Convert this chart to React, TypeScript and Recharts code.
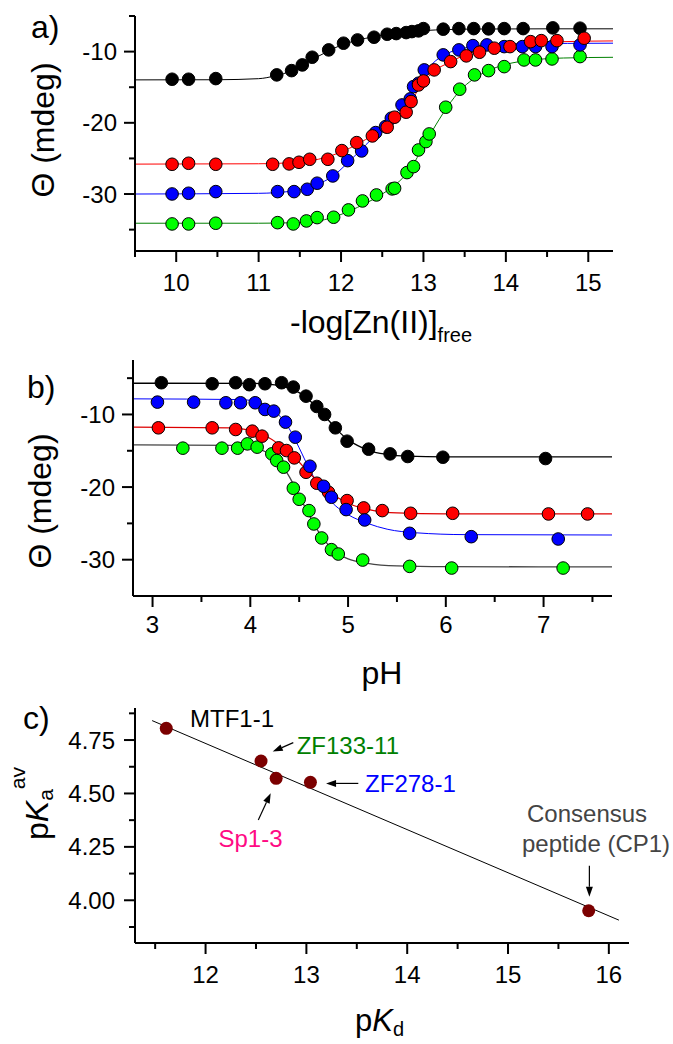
import React from "react";
import {
  ComposedChart,
  Line,
  Scatter,
  XAxis,
  YAxis,
  ReferenceLine,
  ReferenceDot,
} from "recharts";

const FONT = "'Liberation Sans', Arial, sans-serif";

// ---------- a) CD signal vs -log[Zn(II)]free ----------
const aXTicks = [9.5, 10, 10.5, 11, 11.5, 12, 12.5, 13, 13.5, 14, 14.5, 15];
const aXMajor = [10, 11, 12, 13, 14, 15];
const aYTicks = [-35, -30, -25, -20, -15, -10, -5];
const aYMajor = [-30, -20, -10];

const aBlack = [
  [9.95, -13.88], [10.15, -13.88], [10.48, -13.79], [11.22, -13.27], [11.4, -12.67],
  [11.53, -11.87], [11.65, -10.79], [11.85, -9.76], [12.03, -8.82], [12.2, -8.36],
  [12.4, -7.98], [12.56, -7.56], [12.67, -7.47], [12.79, -7.33], [12.86, -7.19],
  [12.94, -7.09], [13.0, -6.77], [13.24, -6.85], [13.43, -6.77], [13.61, -6.77],
  [13.79, -6.81], [13.98, -6.77], [14.21, -6.77], [14.57, -6.67], [14.9, -6.71],
];
const aRed = [
  [9.95, -25.82], [10.15, -25.68], [10.48, -25.82], [11.17, -25.82], [11.37, -25.77],
  [11.49, -25.54], [11.62, -25.12], [11.84, -25.12], [12.01, -23.9], [12.19, -22.78],
  [12.38, -21.84], [12.56, -20.62], [12.65, -19.21], [12.79, -18.51], [12.85, -17.02],
  [12.94, -14.68], [13.0, -14.12], [13.13, -12.57], [13.33, -11.4], [13.52, -10.6],
  [13.68, -10.09], [13.86, -9.52], [14.05, -9.3], [14.3, -8.6], [14.43, -8.46],
  [14.62, -8.46], [14.95, -8.12],
];
const aBlue = [
  [9.95, -29.99], [10.15, -29.89], [10.48, -29.66], [11.23, -29.66], [11.43, -29.66],
  [11.59, -29.33], [11.71, -28.48], [11.9, -27.46], [12.08, -25.31], [12.25, -23.95],
  [12.42, -21.37], [12.54, -20.53], [12.61, -19.35], [12.74, -17.49], [12.84, -16.64],
  [12.88, -14.91], [12.94, -14.44], [13.01, -12.57], [13.24, -10.46], [13.43, -9.76],
  [13.6, -9.16], [13.77, -9.06], [13.98, -9.3], [14.2, -9.3], [14.36, -9.3],
  [14.56, -9.3], [14.9, -9.06],
];
const aGreen = [
  [9.95, -34.2], [10.15, -34.2], [10.48, -34.1], [11.23, -34.02], [11.42, -34.2],
  [11.58, -33.78], [11.71, -33.31], [11.91, -33.26], [12.09, -32.23], [12.26, -30.97],
  [12.43, -30.13], [12.62, -29.28], [12.65, -29.19], [12.8, -26.99], [12.88, -26.15],
  [12.94, -23.81], [13.03, -22.64], [13.07, -21.56], [13.27, -17.81], [13.44, -15.28],
  [13.62, -13.27], [13.79, -12.67], [13.98, -12.11], [14.22, -11.17], [14.36, -11.17],
  [14.56, -11.03], [14.9, -10.7],
];

// fitted curves
const aBlackFit = [
  [9.5, -13.97], [10.5, -13.95], [11.0, -13.8], [11.2, -13.4], [11.4, -12.7], [11.55, -11.8],
  [11.7, -10.8], [11.85, -9.9], [12.0, -9.1], [12.2, -8.4], [12.4, -7.9], [12.6, -7.5],
  [12.8, -7.25], [13.0, -7.05], [13.3, -6.9], [13.7, -6.83], [14.5, -6.8], [15.3, -6.8],
];
const aRedFit = [
  [9.5, -25.8], [11.0, -25.75], [11.5, -25.5], [11.8, -24.9], [12.0, -24.1], [12.2, -23.0],
  [12.4, -21.6], [12.6, -19.9], [12.8, -17.7], [12.95, -15.2], [13.1, -13.0], [13.3, -11.6],
  [13.5, -10.5], [13.8, -9.5], [14.2, -8.85], [14.7, -8.6], [15.3, -8.5],
];
const aBlueFit = [
  [9.5, -30.0], [11.0, -29.9], [11.4, -29.6], [11.7, -28.7], [11.9, -27.5], [12.1, -25.4],
  [12.3, -23.1], [12.5, -20.8], [12.7, -18.2], [12.9, -15.0], [13.0, -13.2], [13.1, -11.8],
  [13.3, -10.2], [13.5, -9.5], [13.8, -9.05], [14.2, -8.9], [15.3, -8.82],
];
const aGreenFit = [
  [9.5, -34.1], [11.0, -34.1], [11.5, -34.0], [11.8, -33.6], [12.1, -32.4], [12.3, -31.3],
  [12.5, -30.0], [12.7, -28.3], [12.85, -26.3], [13.0, -23.3], [13.15, -20.3], [13.3, -17.6],
  [13.45, -15.4], [13.6, -13.9], [13.8, -12.6], [14.0, -11.8], [14.3, -11.2], [14.7, -10.9],
  [15.3, -10.8],
];

// ---------- b) CD signal vs pH ----------
const bXTicks = [3, 3.5, 4, 4.5, 5, 5.5, 6, 6.5, 7, 7.5];
const bXMajor = [3, 4, 5, 6, 7];
const bYTicks = [-30, -25, -20, -15, -10, -5];
const bYMajor = [-30, -20, -10];

const bBlack = [
  [3.09, -5.63], [3.61, -5.77], [3.85, -5.63], [3.99, -5.9], [4.15, -5.77], [4.32, -5.63],
  [4.44, -6.23], [4.57, -7.48], [4.68, -8.9], [4.76, -10.0], [4.87, -11.84], [4.99, -13.68],
  [5.21, -14.78], [5.43, -15.43], [5.61, -15.79], [5.97, -15.89], [7.02, -16.07],
];
const bBlue = [
  [3.05, -8.3], [3.42, -8.3], [3.75, -8.39], [3.9, -8.39], [4.05, -8.39], [4.15, -9.31],
  [4.24, -9.54], [4.36, -11.06], [4.46, -13.13], [4.61, -17.13], [4.75, -19.89], [4.83, -21.4],
  [4.98, -23.1], [5.17, -24.53], [5.63, -26.37], [6.26, -26.83], [7.15, -27.15],
];
const bRed = [
  [3.06, -11.84], [3.61, -11.84], [3.85, -12.07], [4.02, -12.3], [4.12, -12.99], [4.29, -14.6],
  [4.37, -14.97], [4.45, -15.98], [4.57, -17.96], [4.68, -19.47], [4.8, -20.71], [4.99, -21.86],
  [5.16, -22.87], [5.35, -23.24], [5.64, -23.61], [6.07, -23.61], [7.05, -23.7], [7.45, -23.7],
];
const bGreen = [
  [3.31, -14.64], [3.71, -14.64], [3.87, -14.64], [3.97, -14.05], [4.07, -14.5], [4.22, -15.43],
  [4.27, -16.34], [4.34, -17.26], [4.44, -20.16], [4.5, -21.68], [4.6, -23.24], [4.65, -25.08],
  [4.73, -27.01], [4.83, -28.62], [4.9, -29.22], [5.15, -30.05], [5.63, -30.92], [6.06, -31.15],
  [7.2, -31.15],
];

const bBlackFit = [
  [2.8, -5.7], [4.0, -5.72], [4.2, -5.85], [4.3, -6.05], [4.4, -6.4], [4.5, -7.0], [4.6, -8.0],
  [4.7, -9.3], [4.8, -10.8], [4.9, -12.3], [5.0, -13.5], [5.1, -14.3], [5.2, -14.9],
  [5.4, -15.5], [5.6, -15.75], [6.0, -15.85], [7.7, -15.85],
];
const bBlueFit = [
  [2.8, -7.85], [3.9, -7.95], [4.05, -8.2], [4.2, -9.0], [4.3, -10.2], [4.4, -12.0],
  [4.5, -14.6], [4.6, -17.4], [4.7, -19.8], [4.8, -21.6], [4.9, -22.9], [5.0, -23.8],
  [5.2, -25.0], [5.4, -25.8], [5.7, -26.3], [6.2, -26.55], [7.7, -26.6],
];
const bRedFit = [
  [2.8, -11.75], [3.8, -11.85], [4.0, -12.2], [4.15, -12.9], [4.3, -14.2], [4.45, -15.9],
  [4.6, -18.0], [4.75, -20.0], [4.9, -21.5], [5.05, -22.5], [5.25, -23.2], [5.5, -23.55],
  [6.0, -23.68], [7.7, -23.7],
];
const bGreenFit = [
  [2.8, -14.2], [3.8, -14.25], [4.0, -14.45], [4.15, -15.1], [4.3, -16.6], [4.4, -18.6],
  [4.5, -21.2], [4.6, -23.8], [4.7, -26.2], [4.8, -28.0], [4.9, -29.2], [5.0, -29.9],
  [5.2, -30.5], [5.5, -30.85], [6.0, -30.95], [7.7, -31.0],
];

// ---------- c) pKa(av) vs pKd ----------
const cXTicks = [11.5, 12, 12.5, 13, 13.5, 14, 14.5, 15, 15.5, 16];
const cXMajor = [12, 13, 14, 15, 16];
const cYTicks = [3.875, 4.0, 4.125, 4.25, 4.375, 4.5, 4.625, 4.75, 4.875];
const cYMajor = [4.0, 4.25, 4.5, 4.75];

const cPeptides = [
  [11.61, 4.805],
  [12.55, 4.652],
  [12.7, 4.571],
  [13.04, 4.552],
  [15.8, 3.951],
];
const cFit = [
  [11.47, 4.841],
  [16.1, 3.907],
];
const cLabels = [
  { text: "MTF1-1", x: 11.846, y: 4.849, color: "#000000", anchor: "start" },
  { text: "ZF133-11", x: 12.904, y: 4.724, color: "#008000", anchor: "start" },
  { text: "ZF278-1", x: 13.582, y: 4.547, color: "#0000ff", anchor: "start" },
  { text: "Sp1-3", x: 12.446, y: 4.291, color: "#ff0a84", anchor: "middle" },
  { text: "Consensus", x: 15.784, y: 4.408, color: "#444444", anchor: "middle" },
  { text: "peptide (CP1)", x: 15.873, y: 4.265, color: "#444444", anchor: "middle" },
];
const cArrows = [
  [12.87, 4.738, 12.666, 4.696],
  [13.515, 4.547, 13.195, 4.547],
  [12.523, 4.376, 12.646, 4.501],
  [15.807, 4.162, 15.807, 4.017],
];

const toPts = (a: number[][]) => a.map(([x, y]) => ({ x, y }));

type TickOpts = { major: number[]; side: "x" | "y"; gap: number; fmt?: (v: number) => string };

const makeTick = ({ major, side, gap, fmt = (v: number) => String(v) }: TickOpts) =>
  (props: any) => {
    const { x, y, payload } = props;
    const v = payload.value;
    const isMajor = major.some((m) => Math.abs(m - v) < 1e-9);
    const len = isMajor ? 11 : 6;
    if (side === "x") {
      return (
        <g>
          <line x1={x} y1={y} x2={x} y2={y + len} stroke="#000" strokeWidth={2} />
          {isMajor && (
            <text x={x} y={y + gap} textAnchor="middle" dominantBaseline="central"
              fontSize={24} fontFamily={FONT} fill="#000">{fmt(v)}</text>
          )}
        </g>
      );
    }
    return (
      <g>
        <line x1={x} y1={y} x2={x - len} y2={y} stroke="#000" strokeWidth={2} />
        {isMajor && (
          <text x={x - gap} y={y} textAnchor="end" dominantBaseline="central"
            fontSize={24} fontFamily={FONT} fill="#000">{fmt(v)}</text>
        )}
      </g>
    );
  };

const dot = (fill: string) => (p: any) => (
  <circle cx={p.cx} cy={p.cy} r={6.3} fill={fill} stroke="#000" strokeWidth={1} />
);

const axisLine = { stroke: "#000", strokeWidth: 2 };

function PanelA() {
  return (
    <ComposedChart width={673} height={340}
      margin={{ top: 16, right: 60, bottom: 49, left: 75 }}>
      <XAxis type="number" dataKey="x" domain={[9.5, 15.3]} allowDataOverflow
        ticks={aXTicks} interval={0} height={40} tickSize={0} tickMargin={0}
        axisLine={axisLine} tickLine={false}
        tick={makeTick({ major: aXMajor, side: "x", gap: 31 })} />
      <YAxis type="number" dataKey="y" domain={[-38, -5]} allowDataOverflow
        ticks={aYTicks} interval={0} width={60} tickSize={0} tickMargin={0}
        axisLine={axisLine} tickLine={false}
        tick={makeTick({ major: aYMajor, side: "y", gap: 18 })} />
      <Line data={toPts(aBlackFit)} dataKey="y" type="monotone" stroke="#000000"
        strokeWidth={1} dot={false} activeDot={false} isAnimationActive={false} />
      <Line data={toPts(aRedFit)} dataKey="y" type="monotone" stroke="#ff0000"
        strokeWidth={1} dot={false} activeDot={false} isAnimationActive={false} />
      <Line data={toPts(aBlueFit)} dataKey="y" type="monotone" stroke="#0000ff"
        strokeWidth={1} dot={false} activeDot={false} isAnimationActive={false} />
      <Line data={toPts(aGreenFit)} dataKey="y" type="monotone" stroke="#008000"
        strokeWidth={1} dot={false} activeDot={false} isAnimationActive={false} />
      <Scatter data={toPts(aBlack)} dataKey="y" shape={dot("#000000")} isAnimationActive={false} />
      <Scatter data={toPts(aGreen)} dataKey="y" shape={dot("#00ff00")} isAnimationActive={false} />
      <Scatter data={toPts(aBlue)} dataKey="y" shape={dot("#0000ff")} isAnimationActive={false} />
      <Scatter data={toPts(aRed)} dataKey="y" shape={dot("#ff0000")} isAnimationActive={false} />
    </ComposedChart>
  );
}

function PanelB() {
  return (
    <ComposedChart width={673} height={350}
      margin={{ top: 20, right: 61, bottom: 54, left: 73 }}>
      <XAxis type="number" dataKey="x" domain={[2.8, 7.7]} allowDataOverflow
        ticks={bXTicks} interval={0} height={40} tickSize={0} tickMargin={0}
        axisLine={axisLine} tickLine={false}
        tick={makeTick({ major: bXMajor, side: "x", gap: 28 })} />
      <YAxis type="number" dataKey="y" domain={[-35, -2.5]} allowDataOverflow
        ticks={bYTicks} interval={0} width={60} tickSize={0} tickMargin={0}
        axisLine={axisLine} tickLine={false}
        tick={makeTick({ major: bYMajor, side: "y", gap: 18 })} />
      <Line data={toPts(bBlackFit)} dataKey="y" type="monotone" stroke="#000000"
        strokeWidth={1.3} dot={false} activeDot={false} isAnimationActive={false} />
      <Line data={toPts(bBlueFit)} dataKey="y" type="monotone" stroke="#0000ff"
        strokeWidth={1} dot={false} activeDot={false} isAnimationActive={false} />
      <Line data={toPts(bRedFit)} dataKey="y" type="monotone" stroke="#dd0000"
        strokeWidth={1.3} dot={false} activeDot={false} isAnimationActive={false} />
      <Line data={toPts(bGreenFit)} dataKey="y" type="monotone" stroke="#444444"
        strokeWidth={1.3} dot={false} activeDot={false} isAnimationActive={false} />
      <Scatter data={toPts(bBlack)} dataKey="y" shape={dot("#000000")} isAnimationActive={false} />
      <Scatter data={toPts(bGreen)} dataKey="y" shape={dot("#00ff00")} isAnimationActive={false} />
      <Scatter data={toPts(bRed)} dataKey="y" shape={dot("#ff0000")} isAnimationActive={false} />
      <Scatter data={toPts(bBlue)} dataKey="y" shape={dot("#0000ff")} isAnimationActive={false} />
    </ComposedChart>
  );
}

const arrowShape = (p: any) => {
  const { x1, y1, x2, y2 } = p;
  const a = Math.atan2(y2 - y1, x2 - x1);
  const L = 10, W = 3.5;
  const bx = x2 - L * Math.cos(a), by = y2 - L * Math.sin(a);
  const nx = -Math.sin(a) * W, ny = Math.cos(a) * W;
  return (
    <g>
      <line x1={x1} y1={y1} x2={bx} y2={by} stroke="#000" strokeWidth={1.2} />
      <polygon points={`${x2},${y2} ${bx + nx},${by + ny} ${bx - nx},${by - ny}`} fill="#000" />
    </g>
  );
};

function PanelC() {
  return (
    <ComposedChart width={673} height={354}
      margin={{ top: 18, right: 44, bottom: 61, left: 75 }}>
      <XAxis type="number" dataKey="x" domain={[11.3, 16.2]} allowDataOverflow
        ticks={cXTicks} interval={0} height={40} tickSize={0} tickMargin={0}
        axisLine={axisLine} tickLine={false}
        tick={makeTick({ major: cXMajor, side: "x", gap: 31 })} />
      <YAxis type="number" dataKey="y" domain={[3.8, 4.9]} allowDataOverflow
        ticks={cYTicks} interval={0} width={60} tickSize={0} tickMargin={0}
        axisLine={axisLine} tickLine={false}
        tick={makeTick({ major: cYMajor, side: "y", gap: 20, fmt: (v) => v.toFixed(2) })} />
      <Line data={toPts(cFit)} dataKey="y" type="linear" stroke="#000000"
        strokeWidth={1} dot={false} activeDot={false} isAnimationActive={false} />
      <Scatter data={toPts(cPeptides)} dataKey="y" isAnimationActive={false}
        shape={(p: any) => <circle cx={p.cx} cy={p.cy} r={6.5} fill="#7b0000" />} />
      {cArrows.map(([xa, ya, xb, yb], i) => (
        <ReferenceLine key={`ar-${i}`} segment={[{ x: xa, y: ya }, { x: xb, y: yb }]}
          shape={arrowShape} ifOverflow="visible" />
      ))}
      {cLabels.map((l) => (
        <ReferenceDot key={l.text} x={l.x} y={l.y} r={0} ifOverflow="visible"
          shape={(p: any) => (
            <text x={p.cx} y={p.cy} textAnchor={l.anchor as any} dominantBaseline="central"
              fontSize={24} fontFamily={FONT} fill={l.color}>{l.text}</text>
          )} />
      ))}
    </ComposedChart>
  );
}

function Titles() {
  const t = { fontFamily: FONT, fill: "#000" };
  return (
    <svg width={673} height={1044}
      style={{ position: "absolute", left: 0, top: 0, pointerEvents: "none" }}>
      <text x={31} y={38} fontSize={32} {...t}>a)</text>
      <text x={27} y={398} fontSize={32} {...t}>b)</text>
      <text x={23} y={729} fontSize={32} {...t}>c)</text>

      <text x={43} y={130} fontSize={32} textAnchor="middle" dominantBaseline="central"
        transform="rotate(-90 43 130)" {...t}>Θ (mdeg)</text>
      <text x={40} y={501} fontSize={32} textAnchor="middle" dominantBaseline="central"
        transform="rotate(-90 40 501)" {...t}>Θ (mdeg)</text>

      <text x={290} y={333} fontSize={32} {...t}>
        -log[Zn(II)]<tspan fontSize={20} dy={9}>free</tspan>
      </text>
      <text x={382} y={673} fontSize={32} textAnchor="middle" dominantBaseline="central" {...t}>pH</text>

      <text x={48} y={840} fontSize={32} transform="rotate(-90 48 840)" {...t}>
        p<tspan fontStyle="italic">K</tspan>
        <tspan fontSize={21} dy={5}>a</tspan>
        <tspan fontSize={21} dy={-28}>av</tspan>
      </text>
      <text x={355} y={1031} fontSize={31} {...t}>
        p<tspan fontStyle="italic">K</tspan>
        <tspan fontSize={20} dy={5}>d</tspan>
      </text>
    </svg>
  );
}

export default function App() {
  return (
    <div style={{ position: "absolute", left: 0, top: 0, width: 673, height: 1044, background: "#fff", fontFamily: FONT }}>
      <div style={{ position: "absolute", left: 0, top: 0 }}><PanelA /></div>
      <div style={{ position: "absolute", left: 0, top: 340 }}><PanelB /></div>
      <div style={{ position: "absolute", left: 0, top: 690 }}><PanelC /></div>
      <Titles />
    </div>
  );
}
